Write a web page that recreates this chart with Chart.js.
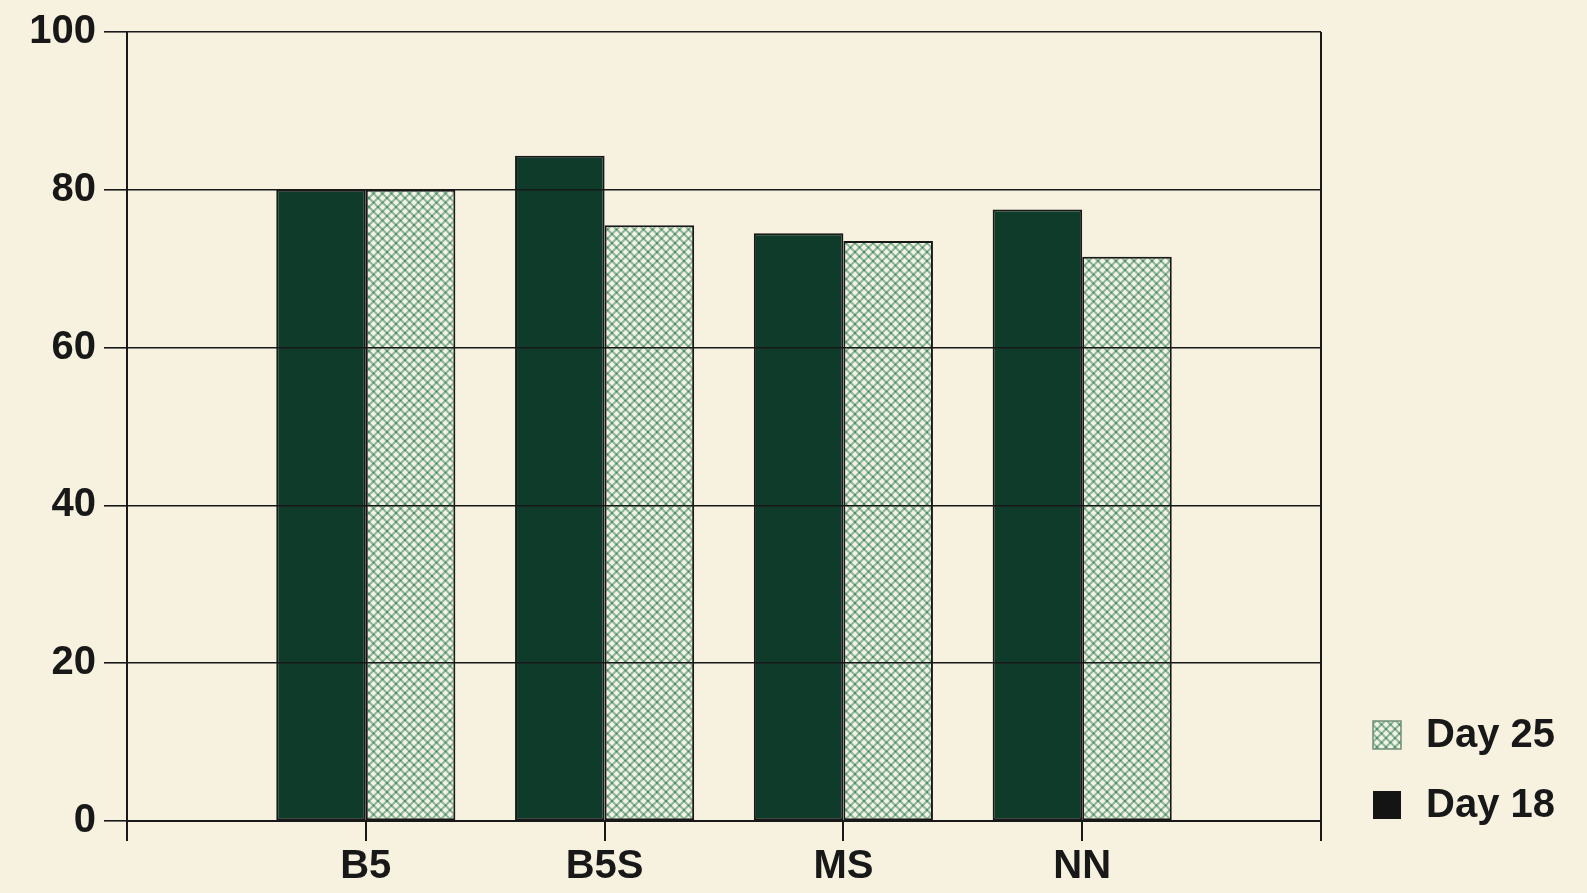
<!DOCTYPE html>
<html>
<head>
<meta charset="utf-8">
<script src="https://cdn.jsdelivr.net/npm/chart.js@4.4.1/dist/chart.umd.min.js"></script>
<style>
  html, body { margin: 0; padding: 0; background: #f6f2df; }
</style>
</head>
<body>
<canvas id="grafico" width="1587" height="893"></canvas>
<script>
// media de cultivo (las posiciones vacías dejan margen a los lados)
const medios = ['', 'B5', 'B5S', 'MS', 'NN', ''];
const dia18 = [null, 80, 84.3, 74.5, 77.5, null];
const dia25 = [null, 80, 75.5, 73.5, 71.5, null];
const marcasY = [0, 20, 40, 60, 80, 100];

const tinta = '#181818';
const verdeOscuro = '#0f3b2a';

// trama cruzada verde para el día 25
function tramaCruzada() {
  const s = 9;
  const c = document.createElement('canvas');
  c.width = s; c.height = s;
  const g = c.getContext('2d');
  g.fillStyle = '#f4f2e4';
  g.fillRect(0, 0, s, s);
  g.strokeStyle = '#8fb89b';
  g.lineWidth = 2.1;
  for (let k = -1; k <= 1; k++) {
    g.beginPath(); g.moveTo(k * s, 0); g.lineTo(k * s + s, s); g.stroke();
    g.beginPath(); g.moveTo(k * s + s, 0); g.lineTo(k * s, s); g.stroke();
  }
  g.fillStyle = '#4a8560';
  [[0, 0], [s, 0], [0, s], [s, s], [s / 2, s / 2]].forEach(([x, y]) => {
    g.beginPath(); g.arc(x, y, 1.1, 0, Math.PI * 2); g.fill();
  });
  return g.createPattern(c, 'repeat');
}
const trama = tramaCruzada();

// leyenda abajo a la derecha, fuera del área de la gráfica
const leyendaLateral = {
  id: 'leyendaLateral',
  afterDraw(chart) {
    const { ctx, chartArea } = chart;
    const lado = 28;
    const x = chartArea.right + 52;
    const filas = chart.data.datasets.slice().reverse();
    ctx.save();
    ctx.font = 'bold 40px "Liberation Sans", Arial, sans-serif';
    ctx.textBaseline = 'middle';
    filas.forEach((ds, i) => {
      const yc = chartArea.bottom - 16 - (filas.length - 1 - i) * 70;
      ctx.fillStyle = ds.colorLeyenda;
      ctx.fillRect(x, yc - lado / 2, lado, lado);
      if (ds.bordeLeyenda) {
        ctx.strokeStyle = ds.bordeLeyenda;
        ctx.lineWidth = 1.5;
        ctx.strokeRect(x, yc - lado / 2, lado, lado);
      }
      ctx.fillStyle = tinta;
      ctx.fillText(ds.label, x + lado + 25, yc + 1);
    });
    ctx.restore();
  }
};

Chart.defaults.font.family = '"Liberation Sans", Arial, sans-serif';
Chart.defaults.font.size = 40;
Chart.defaults.font.weight = 'bold';
Chart.defaults.color = tinta;

const ctx = document.getElementById('grafico');
ctx.grafico = new Chart(ctx, {
  type: 'bar',
  data: {
    labels: medios,
    datasets: [
      {
        label: 'Day 18',
        data: dia18,
        backgroundColor: verdeOscuro,
        borderColor: tinta,
        borderWidth: 2,
        borderSkipped: false,
        colorLeyenda: '#141414'
      },
      {
        label: 'Day 25',
        data: dia25,
        backgroundColor: trama,
        borderColor: tinta,
        borderWidth: 2,
        borderSkipped: false,
        colorLeyenda: trama,
        bordeLeyenda: '#6f8f78'
      }
    ]
  },
  options: {
    responsive: false,
    animation: false,
    categoryPercentage: 0.75,
    barPercentage: 1.0,
    layout: { padding: { left: 22, right: 266, top: 19, bottom: 0 } },
    plugins: {
      legend: { display: false },
      tooltip: { enabled: false }
    },
    scales: {
      x: {
        offset: false,
        grid: {
          offset: false,
          drawOnChartArea: true,
          color: (c) => c.index === medios.length - 1 ? tinta : 'rgba(0,0,0,0)',
          tickColor: tinta,
          tickLength: 20,
          lineWidth: 2
        },
        border: { color: tinta, width: 2 },
        ticks: { padding: 2, maxRotation: 0, autoSkip: false }
      },
      y: {
        min: 0,
        max: 100,
        afterBuildTicks: (s) => { s.ticks = marcasY.map((v) => ({ value: v })); },
        afterFit: (s) => { s.width = 105; },
        // rejilla por encima de las barras, el eje después de la rejilla
        grid: { z: 1, color: tinta, tickColor: tinta, tickLength: 23, lineWidth: 1.6 },
        border: { z: 2, color: tinta, width: 2 },
        ticks: { z: 2, padding: 8 }
      }
    }
  },
  plugins: [leyendaLateral]
});
</script>
</body>
</html>
